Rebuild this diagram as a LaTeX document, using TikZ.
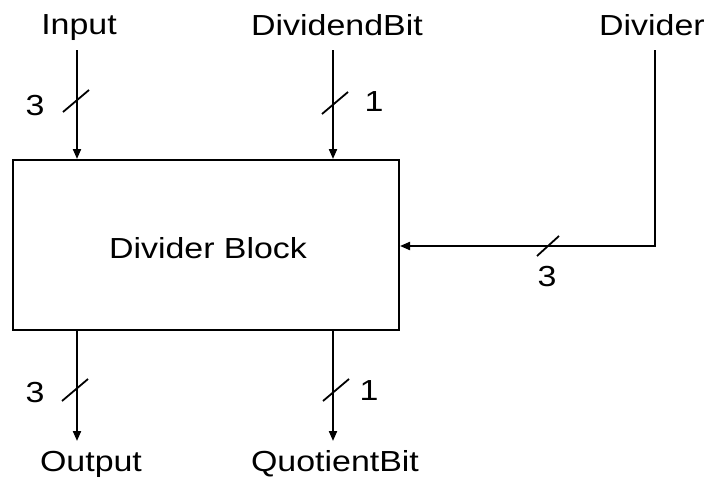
\documentclass[tikz,border=0pt]{standalone}
\usepackage{fontspec}
\setmainfont{Liberation Sans}[FakeStretch=1.17]
\usetikzlibrary{arrows.meta}
\begin{document}
\begin{tikzpicture}[x=1pt,y=-1pt,
  wire/.style={line width=2pt},
  arr/.style={wire,-{Triangle[width=8pt,length=10pt]}},
  lbl/.style={inner sep=0pt,anchor=base,font=\fontsize{29}{32}\selectfont},
  blockbox/.style={draw,line width=2pt,minimum width=386pt,minimum height=170pt,inner sep=0pt},
  tick/.style={line width=1.8pt}]
\useasboundingbox (0,0) rectangle (709,479);
% block
\node[blockbox] (blk) at (206,245) {};
\node[lbl] (blktxt) at (208,258) {Divider Block};
% top labels
\node[lbl] (in) at (79,34) {Input};
\node[lbl] (div) at (337,35) {DividendBit};
\node[lbl] (dvr) at (652,35) {Divider};
% bottom labels
\node[lbl] (out) at (91,471) {Output};
\node[lbl] (quo) at (335,471) {QuotientBit};
% wire ends
\coordinate (inS) at (77,50);
\coordinate (divS) at (333,50);
\coordinate (dvrS) at (655,50);
\coordinate (dvrC) at (655,246);
\coordinate (outE) at (77,441);
\coordinate (quoE) at (333,441);
% wires
\draw[arr] (inS) -- (inS |- blk.north);
\draw[arr] (divS) -- (divS |- blk.north);
\draw[arr] (dvrS) -- (dvrC) -- (blk.east |- dvrC);
\draw[arr] (outE |- blk.south) -- (outE);
\draw[arr] (quoE |- blk.south) -- (quoE);
% bus ticks
\coordinate (t1) at (76,101);
\coordinate (t2) at (335,103);
\coordinate (t3) at (548,246);
\coordinate (t4) at (75,390);
\coordinate (t5) at (336,390);
\foreach \t in {t1,t2,t4,t5}
  \draw[tick] ([shift={(-13,11)}]\t) -- ([shift={(13,-11)}]\t);
\draw[tick] ([shift={(-11,10)}]t3) -- ([shift={(11,-10)}]t3);
% widths
\node[lbl,anchor=center] (w1) at (35,106) {3};
\node[lbl,anchor=center] (w2) at (374,102) {1};
\node[lbl,anchor=center] (w3) at (547,277) {3};
\node[lbl,anchor=center] (w4) at (35,393) {3};
\node[lbl,anchor=center] (w5) at (369,391) {1};
\end{tikzpicture}
\end{document}
